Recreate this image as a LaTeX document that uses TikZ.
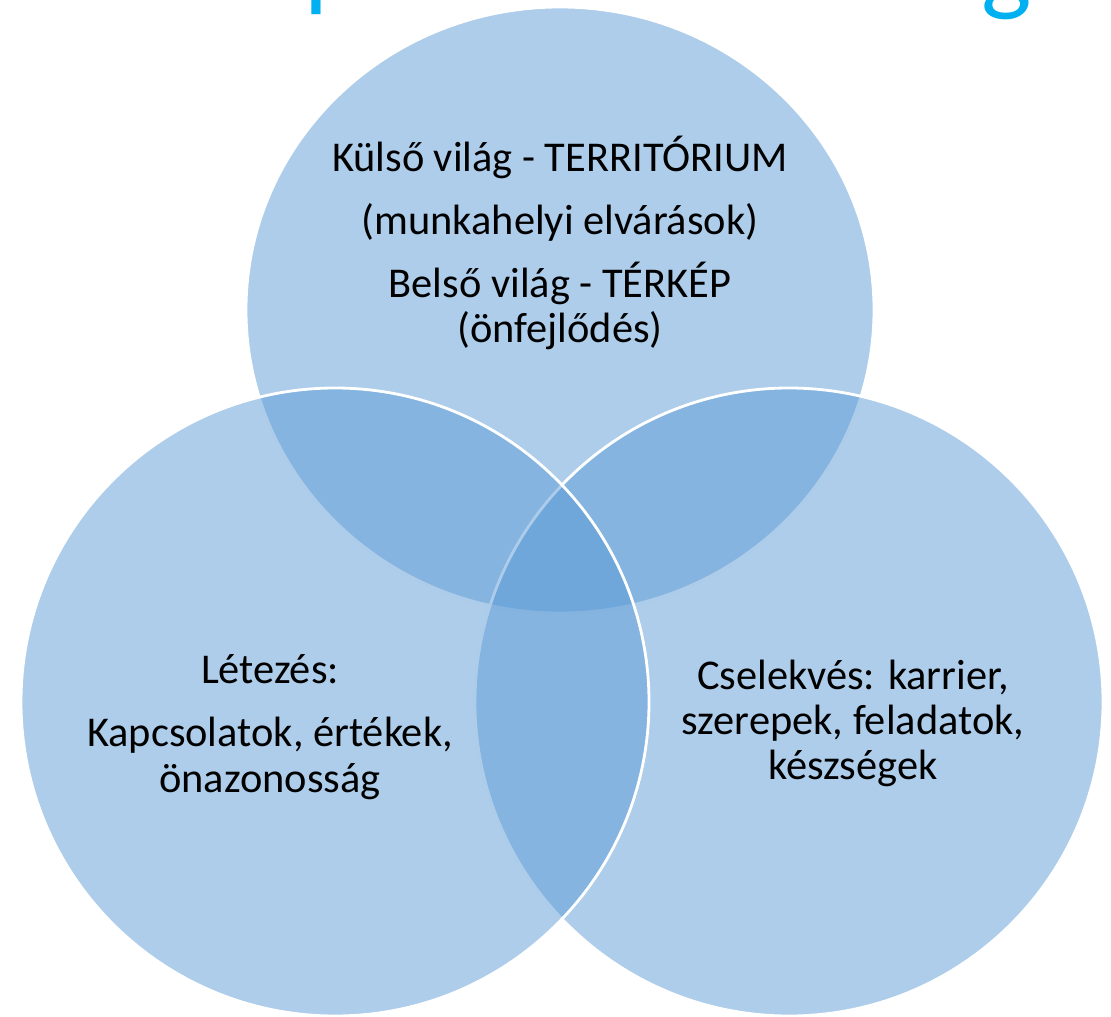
\documentclass[tikz,border=0pt]{standalone}
\usepackage{fontspec}
\setmainfont{Carlito}
\definecolor{vennblue}{HTML}{5B9BD5}
\definecolor{titleblue}{HTML}{00B0F0}
\begin{document}
\begin{tikzpicture}[x=0.03cm,y=-0.03cm,
  venn/.style={fill=vennblue,fill opacity=0.5,draw=white,draw opacity=1,line width=2.4pt},
  lbl/.style={anchor=base,inner sep=0pt,font=\fontsize{36.2pt}{39pt}\selectfont,text=black},
  ttl/.style={anchor=south,inner sep=0pt,font=\fontsize{91pt}{100pt}\selectfont,text=titleblue}]
\clip (0,0) rectangle (1111,1017);
\useasboundingbox (0,0) rectangle (1111,1017);

% lower ends of the slide title glyphs
\node[ttl] (tp) at (333,15) {p};
\node[ttl] (tg) at (1007,20) {g};

% the three sets
\coordinate (ct) at (560,310);
\coordinate (cr) at (789,702);
\coordinate (cl) at (335,702);
\path[venn] (ct) circle[x radius=314,y radius=303];
\path[venn] (cr) circle[radius=314];
\path[venn] (cl) circle[radius=314];

% top set
\node[lbl] (t1) at (560,172) {Külső világ - TERRITÓRIUM};
\node[lbl] (t2) at (560,235) {(munkahelyi elvárások)};
\node[lbl] (t3) at (560,298) {Belső világ - TÉRKÉP};
\node[lbl] (t4) at (560,343) {(önfejlődés)};

% left set
\node[lbl] (l1) at (270,683) {Létezés:};
\node[lbl] (l2) at (270,746) {Kapcsolatok, értékek,};
\node[lbl] (l3) at (270,792) {önazonosság};

% right set
\node[lbl] (r1) at (853,689) {Cselekvés: karrier,};
\node[lbl] (r2) at (853,734) {szerepek, feladatok,};
\node[lbl] (r3) at (853,779) {készségek};
\end{tikzpicture}
\end{document}
